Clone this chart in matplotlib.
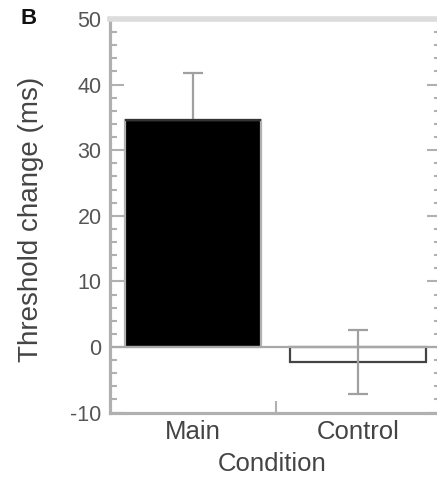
import matplotlib.pyplot as plt
from matplotlib.ticker import MultipleLocator, FixedLocator

plt.rcParams['font.family'] = ['Liberation Sans', 'DejaVu Sans']
plt.rcParams['axes.unicode_minus'] = False

conditions = ['Main', 'Control']
means = [34.6, -2.3]
errors = [7.2, 4.9]
fills = ['black', 'white']
edges = ['#b0b0b0', '#444444']

fig = plt.figure(figsize=(4.37, 4.78), dpi=100)
ax = fig.add_axes([110 / 437, 1 - 412.6 / 478, 331 / 437, (412.6 - 19) / 478])

x = list(range(len(conditions)))
for i in x:
    ax.bar(i, means[i], width=0.82, color=fills[i], edgecolor=edges[i],
           linewidth=1.6, zorder=2)
    # main error bar sits behind its bar so only the upper half shows
    ax.errorbar(i, means[i], yerr=errors[i], color='#a0a0a0', lw=1.6,
                capsize=7, capthick=1.6, zorder=1 if means[i] > 0 else 3)

# dark top edge on the filled bar
ax.hlines(means[0], -0.41, 0.41, color='#333333', lw=1.6, zorder=2.6)
ax.axhline(0, color='#a8a8a8', lw=1.6, zorder=2.5)

ax.set_xlim(-0.5, 1.5)
ax.set_ylim(-10, 50)
ax.yaxis.set_major_locator(MultipleLocator(10))
ax.yaxis.set_minor_locator(MultipleLocator(2))
ax.set_xticks(x)
ax.set_xticklabels(conditions)
ax.xaxis.set_minor_locator(FixedLocator([0.5]))

ax.tick_params(axis='y', which='both', direction='in', left=True, right=True,
               color='#b0b0b0', width=1.5, labelsize=15.5, labelcolor='#555555', pad=6)
ax.tick_params(axis='y', which='major', length=10)
ax.tick_params(axis='y', which='minor', length=5)
ax.tick_params(axis='x', which='major', length=0, labelsize=18.5,
               labelcolor='#444444', pad=5)
ax.tick_params(axis='x', which='minor', direction='in', length=9,
               color='#b0b0b0', width=1.5, bottom=True, top=False)

for side in ['left', 'bottom']:
    ax.spines[side].set_color('#b0b0b0')
    ax.spines[side].set_linewidth(2.3)
ax.spines['top'].set_color('#dcdcdc')
ax.spines['top'].set_linewidth(4)
ax.spines['right'].set_visible(False)

ax.set_ylabel('Threshold change (ms)', fontsize=20, color='#444444')
ax.yaxis.set_label_coords(-0.20, 0.49)
ax.set_xlabel('Condition', fontsize=18.5, color='#444444', va='baseline')
ax.xaxis.set_label_coords(0.49, -0.148)

fig.text(29 / 437, 1 - 18 / 478, 'B', fontsize=16, fontweight='bold',
         ha='center', va='center', color='#111111')

fig.savefig('out.png', dpi=100)
